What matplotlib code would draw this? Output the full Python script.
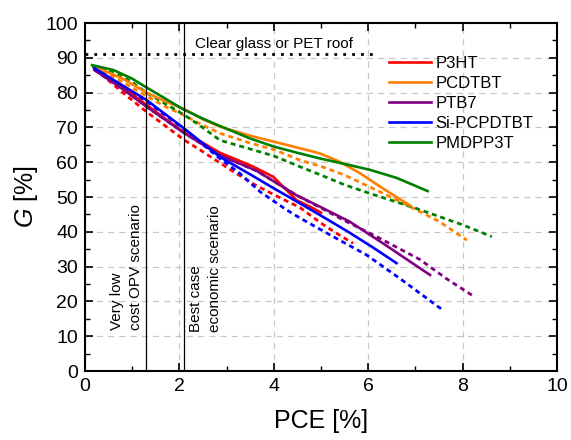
import matplotlib
matplotlib.use("Agg")
import matplotlib.pyplot as plt
from matplotlib.ticker import MultipleLocator

plt.rcParams['font.family'] = ['Liberation Sans', 'DejaVu Sans']
plt.rcParams['mathtext.fontset'] = 'custom'
plt.rcParams['mathtext.rm'] = 'Liberation Sans'
plt.rcParams['mathtext.it'] = 'Liberation Sans:italic'

# solid curves (PCE %, G %)
p3ht_x = [0.2, 0.8, 1.3, 1.7, 2.1, 2.44, 2.86, 3.2, 3.57, 3.99, 4.27, 4.48, 4.84, 5.0]
p3ht_y = [87, 81.5, 76.5, 72.5, 68.5, 66, 62.7, 60.8, 58.7, 55.8, 52, 49.1, 46.7, 45.5]
pcdtbt_x = [0.2, 0.8, 1.3, 1.7, 2.1, 2.5, 2.86, 3.5, 4.0, 4.5, 4.98, 5.4, 5.83, 6.25, 6.6, 6.89]
pcdtbt_y = [87.5, 84, 80, 77.5, 75.3, 72.3, 70.2, 67.6, 65.9, 64.2, 62.5, 60.1, 56.8, 53, 50, 47.5]
ptb7_x = [0.2, 0.8, 1.3, 1.7, 2.1, 2.86, 3.64, 4.48, 4.98, 5.61, 6.3, 7.1, 7.31]
ptb7_y = [86.5, 81, 76, 72.2, 68.4, 62, 57.5, 50.5, 47.2, 42.9, 36.8, 29.5, 27.6]
sipc_x = [0.2, 0.8, 1.3, 1.7, 2.1, 2.86, 3.5, 4.0, 4.55, 4.98, 5.6, 6.1, 6.6]
sipc_y = [87, 82, 77.9, 73.8, 69.7, 61.5, 56.5, 52.5, 48.2, 44.8, 39.8, 35.5, 31]
pmdpp_x = [0.15, 0.6, 1.0, 1.3, 1.7, 2.08, 2.5, 2.86, 3.5, 4.0, 4.5, 5.0, 5.5, 6.04, 6.6, 7.26]
pmdpp_y = [87.9, 86.5, 84, 81.5, 78.3, 75.2, 72.5, 70.4, 66.8, 64.5, 62.7, 61, 59.5, 57.8, 55.5, 51.7]

# dashed curves
p3ht_dx = [0.2, 0.8, 1.3, 2.1, 2.44, 3.14, 3.6, 4.1, 4.55, 4.77, 5.0, 5.3, 5.68]
p3ht_dy = [87, 80, 74.5, 66.4, 63.5, 57.3, 53.5, 50, 47, 44.8, 42.5, 39.8, 36.7]
pcdtbt_dx = [0.2, 0.8, 1.3, 1.7, 2.1, 2.44, 2.86, 3.5, 4.03, 4.55, 5.0, 5.5, 6.31, 6.89, 7.5, 8.09]
pcdtbt_dy = [87.5, 83, 79, 76, 73.5, 71, 68.3, 65.5, 63.5, 60.6, 58.8, 56.3, 51.1, 47.2, 43, 37.6]
ptb7_dx = [0.2, 0.8, 1.3, 1.7, 2.1, 2.86, 3.64, 4.48, 4.98, 5.47, 6.18, 7.1, 7.66, 8.22]
ptb7_dy = [86.5, 81, 76, 72.2, 68.4, 62, 57.5, 50.5, 47, 43.4, 38.6, 32, 26.5, 21.6]
sipc_dx = [0.2, 0.8, 1.3, 1.7, 2.1, 2.86, 3.28, 3.71, 4.27, 4.55, 5.26, 5.97, 6.67, 7.58]
sipc_dy = [87, 81.8, 77.5, 73.5, 69.5, 61, 56.8, 51.5, 46.3, 44, 38.6, 33.3, 26.6, 17.5]
pmdpp_dx = [0.15, 0.6, 1.0, 1.3, 1.7, 2.1, 2.44, 2.86, 3.5, 4.0, 4.5, 5.0, 5.5, 6.04, 7.0, 8.0, 8.62]
pmdpp_dy = [87.5, 86, 83, 80, 76.8, 73.6, 70.5, 66.3, 63.8, 61.8, 59, 56.3, 53.5, 51, 46.8, 42, 38.6]

names = ['P3HT', 'PCDTBT', 'PTB7', 'Si-PCPDTBT', 'PMDPP3T']
colors = ['#ff0000', '#ff8000', '#800080', '#0000ff', '#008000']
solid = [(p3ht_x, p3ht_y), (pcdtbt_x, pcdtbt_y), (ptb7_x, ptb7_y),
         (sipc_x, sipc_y), (pmdpp_x, pmdpp_y)]
dashed = [(p3ht_dx, p3ht_dy), (pcdtbt_dx, pcdtbt_dy), (ptb7_dx, ptb7_dy),
          (sipc_dx, sipc_dy), (pmdpp_dx, pmdpp_dy)]

scenarios = [1.3, 2.1]
roof_g = 91

fig = plt.figure(figsize=(5.71, 4.40), dpi=100)
ax = fig.add_axes([85 / 571, 1 - 371 / 440, 472 / 571, 348 / 440])

ax.grid(True, which='major', color='#c8c8c8', linestyle=(0, (5, 4)), linewidth=0.9)
ax.set_axisbelow(True)

for (dx, dy), c in zip(dashed, colors):
    ax.plot(dx, dy, color=c, linestyle=(0, (1.8, 1.4)), linewidth=2.0)
for (sx, sy), c, n in zip(solid, colors, names):
    ax.plot(sx, sy, color=c, linewidth=1.9, label=n)

for xv in scenarios:
    ax.axvline(xv, color='black', linewidth=0.9)
ax.plot([0, 6.1], [roof_g, roof_g], color='black', linestyle=(0, (1, 2.2)), linewidth=2.0)

ax.text(4.0, 94, 'Clear glass or PET roof', ha='center', va='center', fontsize=11)
ax.text(0.87, 11.8, 'Very low\ncost OPV scenario', rotation=90, ha='center',
        va='bottom', multialignment='left', fontsize=11, linespacing=1.45)
ax.text(2.56, 11.3, 'Best case\neconomic scenario', rotation=90, ha='center',
        va='bottom', multialignment='left', fontsize=11, linespacing=1.45)

ax.set_xlim(0, 10)
ax.set_ylim(0, 100)
ax.xaxis.set_major_locator(MultipleLocator(2))
ax.xaxis.set_minor_locator(MultipleLocator(1))
ax.yaxis.set_major_locator(MultipleLocator(10))
ax.yaxis.set_minor_locator(MultipleLocator(5))
ax.tick_params(which='both', direction='in', top=True, right=True, labelsize=14)
ax.tick_params(which='major', length=6, width=1.2, pad=5)
ax.tick_params(which='minor', length=3.5, width=1.0)
for s in ax.spines.values():
    s.set_linewidth(1.5)

ax.set_xlabel('PCE [%]', fontsize=18, labelpad=10)
ax.set_ylabel(r'$\mathit{G}$ [%]', fontsize=18, labelpad=4)

ax.legend(loc='upper left', bbox_to_anchor=(0.63, 0.925), frameon=False,
          fontsize=12, handlelength=2.5, handletextpad=0.3, labelspacing=0.3,
          borderaxespad=0)

fig.savefig('out.png', dpi=100)
